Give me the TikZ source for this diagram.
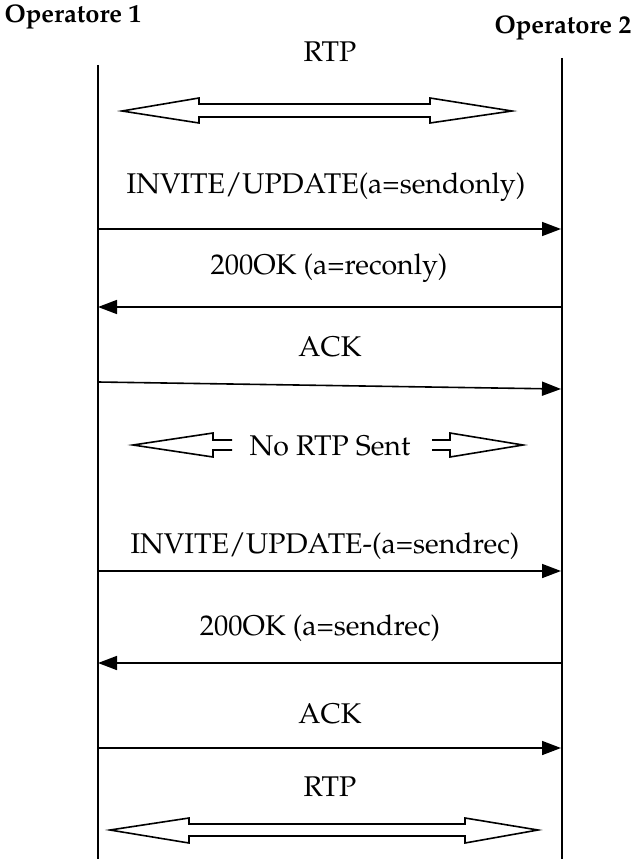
\documentclass[tikz,border=0pt]{standalone}
\usepackage[T1]{fontenc}
\usepackage{mathpazo}
\usetikzlibrary{arrows.meta}
\tikzset{
  lifeline/.style={line width=2.6pt},
  msg/.style={line width=1.6pt,-{Triangle[length=19pt,width=14pt]}},
  lbl/.style={inner sep=0pt,font=\fontsize{28.5}{32}\selectfont},
  title/.style={inner sep=0pt,font=\fontsize{25.5}{29}\selectfont\bfseries},
  block/.style={line width=1.6pt,line join=miter,fill=white}
}
\begin{document}
\begin{tikzpicture}[x=1pt,y=-1pt]
\useasboundingbox (0,0) rectangle (643,859);
% participants
\node[title] (op1) at (73,17) {Operatore 1};
\node[title] (op2) at (563,28) {Operatore 2};
\coordinate (l1top) at (98,65);
\coordinate (l1bot) at (98,859);
\coordinate (l2top) at (562,58);
\coordinate (l2bot) at (562,859);
\draw[lifeline] (l1top) -- (l1bot);
\draw[lifeline] (l2top) -- (l2bot);

% RTP flowing both ways
\node[lbl] (rtp1) at (330,52) {RTP};
\draw[block] (122,111) -- (199,98) -- (199,104) -- (430,104) -- (430,98)
  -- (512,111) -- (430,123) -- (430,117) -- (199,117) -- (199,123) -- cycle;

% re-INVITE putting media on hold
\node[lbl] (m1) at (326,187) {INVITE/UPDATE(a=sendonly)};
\coordinate (a1) at (98,229);  \coordinate (b1) at (561,229);
\draw[msg] (a1) -- (b1);

\node[lbl] (m2) at (329,268) {200OK (a=reconly)};
\coordinate (a2) at (98,307);  \coordinate (b2) at (562,307);
\draw[msg] (b2) -- (a2);

\node[lbl] (m3) at (330,347) {ACK};
\coordinate (a3) at (98,382);  \coordinate (b3) at (561,389);
\draw[msg] (a3) -- (b3);

% media suspended: two short open-ended block arrows around the label
\node[lbl] (norpt) at (330,446) {No RTP Sent};
\fill[white] (133,445) -- (213,433) -- (213,440) -- (232,440) -- (232,450)
  -- (213,450) -- (213,457) -- cycle;
\draw[block] (232,440) -- (213,440) -- (213,433) -- (133,445)
  -- (213,457) -- (213,450) -- (232,450);
\fill[white] (523,445) -- (450,433) -- (450,440) -- (432,440) -- (432,450)
  -- (450,450) -- (450,457) -- cycle;
\draw[block] (432,440) -- (450,440) -- (450,433) -- (523,445)
  -- (450,457) -- (450,450) -- (432,450);

% re-INVITE resuming media
\node[lbl] (m4) at (325,546) {INVITE/UPDATE-(a=sendrec)};
\coordinate (a4) at (98,571);  \coordinate (b4) at (561,571);
\draw[msg] (a4) -- (b4);

\node[lbl] (m5) at (320,628) {200OK (a=sendrec)};
\coordinate (a5) at (98,663);  \coordinate (b5) at (562,663);
\draw[msg] (b5) -- (a5);

\node[lbl] (m6) at (330,714) {ACK};
\coordinate (a6) at (98,748);  \coordinate (b6) at (561,748);
\draw[msg] (a6) -- (b6);

% RTP restored
\node[lbl] (rtp2) at (330,787) {RTP};
\draw[block] (110,830) -- (189,818) -- (189,824) -- (465,824) -- (465,818)
  -- (538,830) -- (465,843) -- (465,836) -- (189,836) -- (189,843) -- cycle;
\end{tikzpicture}
\end{document}
